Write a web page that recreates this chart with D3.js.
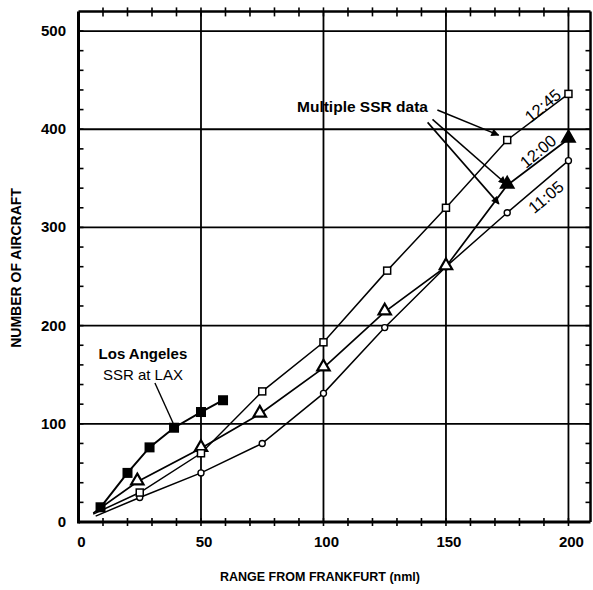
<!DOCTYPE html>
<html>
<head>
<meta charset="utf-8">
<script src="https://cdn.jsdelivr.net/npm/d3@7"></script>
<style>
  body { margin: 0; background: #fff; }
  text { font-family: "Liberation Sans", Arial, sans-serif; fill: #000; }
</style>
</head>
<body>
<div id="chart"></div>
<script>
// --- data ---
var laxRange = [9, 20, 29, 39, 50, 59],
    laxCount = [15, 50, 76, 96, 112, 124];

var t1245Range = [6, 25, 50, 75, 100, 126, 150, 175, 200],
    t1245Count = [8, 30, 70, 133, 183, 256, 320, 389, 436];

var t1200Range = [6, 24, 50, 74, 100, 125, 150, 175, 200],
    t1200Count = [9, 41, 75, 110, 157, 214, 260, 343, 390];

var t1105Range = [7, 25, 50, 75, 100, 125, 150, 175, 200],
    t1105Count = [6, 25, 50, 80, 131, 198, 260, 315, 368];

var xTicks = [0, 50, 100, 150, 200],
    yTicks = [0, 100, 200, 300, 400, 500],
    timeLabels = ["12:45", "12:00", "11:05"];

var width = 593, height = 590;

var x = d3.scaleLinear().domain([0, 209]).range([78.5, 590.5]);
var y = d3.scaleLinear().domain([0, 520]).range([522, 11.4]);

var svg = d3.select("#chart").append("svg")
    .attr("width", width)
    .attr("height", height);

var defs = svg.append("defs");
defs.append("marker")
    .attr("id", "arrow")
    .attr("viewBox", "0 0 10 10")
    .attr("refX", 9).attr("refY", 5)
    .attr("markerWidth", 11).attr("markerHeight", 8)
    .attr("markerUnits", "userSpaceOnUse")
    .attr("orient", "auto")
  .append("path")
    .attr("d", "M0,0L10,5L0,10z")
    .attr("fill", "#000");

// gridlines
svg.append("g").selectAll("line")
    .data(xTicks.slice(1))
  .enter().append("line")
    .attr("x1", function(d) { return x(d); })
    .attr("x2", function(d) { return x(d); })
    .attr("y1", y(0)).attr("y2", y(520))
    .attr("stroke", "#000").attr("stroke-width", 1.8);

svg.append("g").selectAll("line")
    .data(yTicks.slice(1))
  .enter().append("line")
    .attr("y1", function(d) { return y(d); })
    .attr("y2", function(d) { return y(d); })
    .attr("x1", x(0)).attr("x2", x(209))
    .attr("stroke", "#000").attr("stroke-width", 1.8);

// minor ticks
var minorX = d3.range(10, 201, 10), minorY = d3.range(20, 501, 20);
var ticks = svg.append("g").attr("stroke", "#000").attr("stroke-width", 1.6);
minorX.forEach(function(v) {
    ticks.append("line").attr("x1", x(v)).attr("x2", x(v))
        .attr("y1", y(0) - 4).attr("y2", y(0) + 4);
    ticks.append("line").attr("x1", x(v)).attr("x2", x(v))
        .attr("y1", y(520) - 4).attr("y2", y(520) + 5);
});
minorY.forEach(function(v) {
    ticks.append("line").attr("y1", y(v)).attr("y2", y(v))
        .attr("x1", x(0)).attr("x2", x(0) + 5);
    ticks.append("line").attr("y1", y(v)).attr("y2", y(v))
        .attr("x1", x(209) - 5).attr("x2", x(209));
});

// frame
svg.append("line").attr("x1", x(0)).attr("x2", x(209)).attr("y1", y(0)).attr("y2", y(0))
    .attr("stroke", "#000").attr("stroke-width", 3);
svg.append("line").attr("x1", x(0)).attr("x2", x(0)).attr("y1", y(0) + 1.5).attr("y2", y(520))
    .attr("stroke", "#000").attr("stroke-width", 3);
svg.append("line").attr("x1", x(0)).attr("x2", x(209)).attr("y1", y(520)).attr("y2", y(520))
    .attr("stroke", "#000").attr("stroke-width", 2.5);
svg.append("line").attr("x1", x(209)).attr("x2", x(209)).attr("y1", y(0)).attr("y2", y(520))
    .attr("stroke", "#000").attr("stroke-width", 2.5);

// tick labels
svg.append("g").selectAll("text")
    .data(xTicks)
  .enter().append("text")
    .attr("x", function(d) { return x(d) + 3; })
    .attr("y", 547)
    .attr("text-anchor", "middle")
    .style("font-size", "15px").style("font-weight", "bold")
    .text(function(d) { return d; });

svg.append("g").selectAll("text")
    .data(yTicks)
  .enter().append("text")
    .attr("x", 66)
    .attr("y", function(d) { return y(d) + 5; })
    .attr("text-anchor", "end")
    .style("font-size", "15px").style("font-weight", "bold")
    .text(function(d) { return d; });

// axis titles
svg.append("text")
    .attr("x", 320).attr("y", 581)
    .attr("text-anchor", "middle")
    .style("font-size", "12.5px").style("font-weight", "bold")
    .text("RANGE FROM FRANKFURT (nml)");

svg.append("text")
    .attr("transform", "translate(21,268) rotate(-90)")
    .attr("text-anchor", "middle")
    .style("font-size", "14px").style("font-weight", "bold")
    .text("NUMBER OF AIRCRAFT");

// series lines
var line = d3.line()
    .x(function(d) { return x(d[0]); })
    .y(function(d) { return y(d[1]); });

function pts(r, c) { return r.map(function(v, i) { return [v, c[i]]; }); }

var series = [
    { p: pts(t1105Range, t1105Count), w: 1.5 },
    { p: pts(t1200Range, t1200Count), w: 1.7 },
    { p: pts(t1245Range, t1245Count), w: 1.5 },
    { p: pts(laxRange, laxCount), w: 2 }
];

svg.append("g").selectAll("path")
    .data(series)
  .enter().append("path")
    .attr("d", function(d) { return line(d.p); })
    .attr("fill", "none")
    .attr("stroke", "#000")
    .attr("stroke-width", function(d) { return d.w; });

// markers (first point of each SSR series has none)
svg.append("g").selectAll("circle")
    .data(series[0].p.slice(1))
  .enter().append("circle")
    .attr("cx", function(d) { return x(d[0]); })
    .attr("cy", function(d) { return y(d[1]); })
    .attr("r", 3)
    .attr("fill", "#fff").attr("stroke", "#000").attr("stroke-width", 1.4);

var tri = d3.symbol().type(d3.symbolTriangle).size(66);
svg.append("g").selectAll("path")
    .data(series[1].p.slice(1))
  .enter().append("path")
    .attr("d", tri)
    .attr("transform", function(d) { return "translate(" + x(d[0]) + "," + (y(d[1]) - 1) + ")"; })
    .attr("fill", function(d, i, n) { return i >= n.length - 2 ? "#000" : "#fff"; })
    .attr("stroke", "#000").attr("stroke-width", 2.2);

svg.append("g").selectAll("rect")
    .data(series[2].p.slice(1))
  .enter().append("rect")
    .attr("x", function(d) { return x(d[0]) - 3.5; })
    .attr("y", function(d) { return y(d[1]) - 3.5; })
    .attr("width", 7).attr("height", 7)
    .attr("fill", "#fff").attr("stroke", "#000").attr("stroke-width", 1.5);

svg.append("g").selectAll("rect")
    .data(series[3].p)
  .enter().append("rect")
    .attr("x", function(d) { return x(d[0]) - 5; })
    .attr("y", function(d) { return y(d[1]) - 5; })
    .attr("width", 10).attr("height", 10)
    .attr("fill", "#000");

// time labels along the lines
var timePos = [[189.5, 424], [187.6, 377.5], [190.8, 331]];
svg.append("g").selectAll("text")
    .data(timeLabels)
  .enter().append("text")
    .attr("transform", function(d, i) {
        return "translate(" + x(timePos[i][0]) + "," + y(timePos[i][1]) + ") rotate(-40)";
    })
    .attr("text-anchor", "middle")
    .attr("dy", "0.35em")
    .style("font-size", "16.5px")
    .text(function(d) { return d; });

// "Multiple SSR data" annotation with arrows
svg.append("text")
    .attr("x", x(89.2)).attr("y", y(418))
    .style("font-size", "15.5px").style("font-weight", "bold")
    .text("Multiple SSR data");

var arrows = [
    [[146.5, 419.6], [171.5, 394]],
    [[144.5, 410], [174.5, 344.5]],
    [[142.5, 407], [171.6, 324]]
];
svg.append("g").selectAll("line")
    .data(arrows)
  .enter().append("line")
    .attr("x1", function(d) { return x(d[0][0]); })
    .attr("y1", function(d) { return y(d[0][1]); })
    .attr("x2", function(d) { return x(d[1][0]); })
    .attr("y2", function(d) { return y(d[1][1]); })
    .attr("stroke", "#000").attr("stroke-width", 1.6)
    .attr("marker-end", "url(#arrow)");

// Los Angeles annotation
svg.append("text")
    .attr("x", x(26.3)).attr("y", y(166.5))
    .attr("text-anchor", "middle")
    .style("font-size", "15px").style("font-weight", "bold")
    .text("Los Angeles");
svg.append("text")
    .attr("x", x(26.3)).attr("y", y(144.6))
    .attr("text-anchor", "middle")
    .style("font-size", "15px")
    .text("SSR at LAX");
svg.append("line")
    .attr("x1", x(31.2)).attr("y1", y(141.5))
    .attr("x2", x(38.6)).attr("y2", y(100.8))
    .attr("stroke", "#000").attr("stroke-width", 1.4);
</script>
</body>
</html>
